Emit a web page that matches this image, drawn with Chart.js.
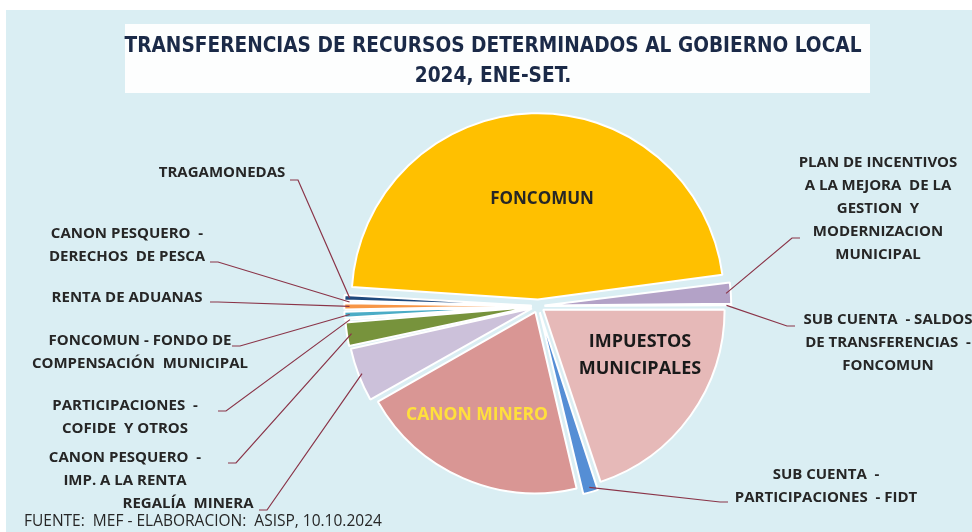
<!DOCTYPE html>
<html>
<head>
<meta charset="utf-8">
<script src="https://cdn.jsdelivr.net/npm/chart.js@4.4.1/dist/chart.umd.min.js"></script>
<style>
  html, body { margin: 0; padding: 0; background: #ffffff; }
  #wrap { width: 972px; height: 532px; position: relative; }
</style>
</head>
<body>
<div id="wrap"><canvas id="c" width="972" height="532"></canvas></div>
<script>
// ---- DATA (percent shares) ----
const categories = [
  "FONCOMUN",
  "PLAN DE INCENTIVOS A LA MEJORA DE LA GESTION Y MODERNIZACION MUNICIPAL",
  "SUB CUENTA - SALDOS DE TRANSFERENCIAS - FONCOMUN",
  "IMPUESTOS MUNICIPALES",
  "SUB CUENTA - PARTICIPACIONES - FIDT",
  "CANON MINERO",
  "REGALÍA MINERA",
  "CANON PESQUERO - IMP. A LA RENTA",
  "PARTICIPACIONES - COFIDE Y OTROS",
  "FONCOMUN - FONDO DE COMPENSACIÓN MUNICIPAL",
  "RENTA DE ADUANAS",
  "CANON PESQUERO - DERECHOS DE PESCA",
  "TRAGAMONEDAS"
];
const shares = [46.9, 1.97, 0.05, 19.9, 1.45, 20.4, 4.8, 2.19, 0.18, 0.68, 0.7, 0.03, 0.65];
const sliceColors = [
  "#FFC000", "#B3A2C7", "#C6D9F1", "#E6B9B8", "#558ED5", "#D99694",
  "#CCC1DA", "#77933C", "#E8EEF4", "#4BACC6", "#F79646", "#A6A6A6", "#1F497D"
];
const titleLines = ["TRANSFERENCIAS DE RECURSOS DETERMINADOS AL GOBIERNO LOCAL", "2024, ENE-SET."];
const sourceNote = "FUENTE:  MEF - ELABORACION:  ASISP, 10.10.2024";

// ---- Layout of annotation labels (text placement only) ----
const outsideLabels = [
  { idx: 12, lines: ["TRAGAMONEDAS"], cx: 222, y: 173, anchor: [290, 180], elbow: 8 },
  { idx: 11, lines: ["CANON PESQUERO  -", "DERECHOS  DE PESCA"], cx: 127, y: 234, anchor: [210, 262], elbow: 8 },
  { idx: 10, lines: ["RENTA DE ADUANAS"], cx: 127, y: 298, anchor: [210, 302], elbow: 8 },
  { idx: 9,  lines: ["FONCOMUN - FONDO DE", "COMPENSACIÓN  MUNICIPAL"], cx: 140, y: 341, anchor: [232, 346], elbow: 8 },
  { idx: 8,  lines: ["PARTICIPACIONES  -", "COFIDE  Y OTROS"], cx: 125, y: 406, anchor: [218, 411], elbow: 8 },
  { idx: 7,  lines: ["CANON PESQUERO  -", "IMP. A LA RENTA"], cx: 125, y: 458, anchor: [228, 463], elbow: 8 },
  { idx: 6,  lines: ["REGALÍA  MINERA"], cx: 188, y: 504, anchor: [259, 510], elbow: 8 },
  { idx: 1,  lines: ["PLAN DE INCENTIVOS", "A LA MEJORA  DE LA", "GESTION  Y", "MODERNIZACION", "MUNICIPAL"], cx: 878, y: 163, anchor: [800, 238], elbow: -8 },
  { idx: 2,  lines: ["SUB CUENTA  - SALDOS", "DE TRANSFERENCIAS  -", "FONCOMUN"], cx: 888, y: 320, anchor: [795, 326], elbow: -8 },
  { idx: 4,  lines: ["SUB CUENTA  -", "PARTICIPACIONES  - FIDT"], cx: 826, y: 475, anchor: [728, 502], elbow: -8 }
];
const insideLabels = [
  { lines: ["FONCOMUN"], x: 542, y: 199, size: 17, color: "#262626" },
  { lines: ["IMPUESTOS", "MUNICIPALES"], x: 640, y: 342, size: 18, color: "#1a1a1a", lh: 27 },
  { lines: ["CANON MINERO"], x: 477, y: 415, size: 17.5, color: "#FFE03C" }
];

const LABEL_FONT = 'bold 15px "Open Sans", "Noto Sans", sans-serif';
const LINE_H = 23;
const LEADER_COLOR = "#8A3448";

const annotations = {
  id: "annotations",
  beforeDraw(chart) {
    const ctx = chart.ctx;
    ctx.save();
    ctx.fillStyle = "#ffffff";
    ctx.fillRect(0, 0, chart.width, chart.height);
    ctx.fillStyle = "#DAEEF3";
    ctx.fillRect(6, 10, chart.width - 6, chart.height - 10);
    // title box
    ctx.fillStyle = "#FDFEFE";
    ctx.fillRect(125, 24, 745, 69);
    ctx.fillStyle = "#1B2A48";
    ctx.font = 'bold 22px "Liberation Sans Narrow", "DejaVu Sans Condensed", sans-serif';
    ctx.textAlign = "center";
    ctx.textBaseline = "middle";
    const target = 737;
    const w = ctx.measureText(titleLines[0]).width;
    const sx = target / w;
    ctx.save();
    ctx.translate(493, 46);
    ctx.scale(sx, 1);
    ctx.fillText(titleLines[0], 0, 0);
    ctx.restore();
    ctx.save();
    ctx.translate(493, 76);
    ctx.scale(sx, 1);
    ctx.fillText(titleLines[1], 0, 0);
    ctx.restore();
    ctx.restore();
  },
  afterDraw(chart) {
    const ctx = chart.ctx;
    const arcs = chart.getDatasetMeta(0).data;
    ctx.save();
    // leader lines
    ctx.strokeStyle = LEADER_COLOR;
    ctx.lineWidth = 1.2;
    outsideLabels.forEach(l => {
      const a = arcs[l.idx];
      const mid = (a.startAngle + a.endAngle) / 2;
      const off = (a.options.offset || 0) / 4;
      const r = a.outerRadius + off + 1;
      const px = a.x + Math.cos(mid) * r;
      const py = a.y + Math.sin(mid) * r;
      ctx.beginPath();
      ctx.moveTo(l.anchor[0], l.anchor[1]);
      ctx.lineTo(l.anchor[0] + l.elbow, l.anchor[1]);
      ctx.lineTo(px, py);
      ctx.stroke();
    });
    // outside label text
    ctx.fillStyle = "#262626";
    ctx.font = LABEL_FONT;
    ctx.textAlign = "center";
    ctx.textBaseline = "middle";
    outsideLabels.forEach(l => {
      l.lines.forEach((t, i) => ctx.fillText(t, l.cx, l.y + i * LINE_H));
    });
    // inside labels
    insideLabels.forEach(l => {
      ctx.font = 'bold ' + l.size + 'px "Open Sans", "Noto Sans", sans-serif';
      ctx.fillStyle = l.color;
      l.lines.forEach((t, i) => ctx.fillText(t, l.x, l.y + i * (l.lh || 24)));
    });
    // source
    ctx.font = '15.5px "Open Sans", "Noto Sans", sans-serif';
    ctx.fillStyle = "#262626";
    ctx.textAlign = "left";
    ctx.fillText(sourceNote, 24, 522);
    ctx.restore();
  }
};

const startDeg = 183.6; // FONCOMUN's first edge, clockwise from 3 o'clock

new Chart(document.getElementById("c"), {
  type: "pie",
  data: {
    labels: categories,
    datasets: [{
      data: shares,
      backgroundColor: sliceColors,
      borderColor: "#ffffff",
      borderWidth: 2,
      offset: 26
    }]
  },
  options: {
    responsive: false,
    animation: false,
    rotation: startDeg + 90,
    radius: 181,
    layout: { padding: { left: 204, right: 100, top: 101, bottom: 21 } },
    plugins: {
      legend: { display: false },
      tooltip: { enabled: false },
      title: { display: false }
    }
  },
  plugins: [annotations]
});
</script>
</body>
</html>
